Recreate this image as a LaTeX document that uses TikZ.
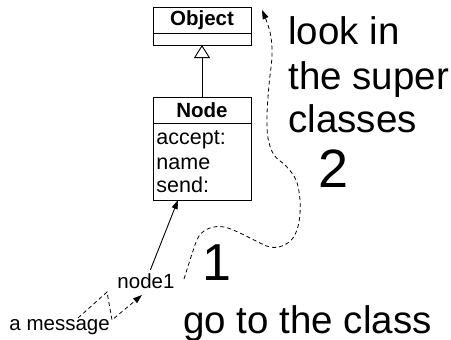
\documentclass[tikz,border=0pt]{standalone}
\usepackage{fontspec}
\setmainfont{Liberation Sans}
\usetikzlibrary{arrows.meta,calc}
\begin{document}
\begin{tikzpicture}[x=1pt,y=-1pt,line width=0.9pt,
  box/.style={draw,minimum width=98pt,inner sep=0pt,outer sep=0pt},
  small/.style={font=\fontsize{20.5}{24}\selectfont},
  big/.style={font=\fontsize{38.5}{44}\selectfont,inner sep=0pt,anchor=base west},
  lbl/.style={font=\fontsize{21.5}{24}\selectfont,inner sep=0pt,anchor=base west},
  dsh/.style={dash pattern=on 4pt off 3pt,line width=0.8pt},
  tip/.style={-{Triangle[length=9pt,width=6pt]}}]
\useasboundingbox (0,0) rectangle (451,340);
% Object class
\node[box,minimum height=26pt,small] (objhead) at (202,20) {\bfseries Object};
\node[box,minimum height=12pt,anchor=north] (objbody) at (objhead.south) {};
% Node class
\node[box,minimum height=26pt,small] (nodehead) at (202,110) {\bfseries Node};
\node[box,minimum height=77pt,anchor=north] (nodebody) at (nodehead.south) {};
\node[lbl] (r1) at (156,144) {accept:};
\node[lbl] (r2) at (156,169) {name};
\node[lbl] (r3) at (156,193) {send:};
% inheritance
\draw[-{Triangle[open,length=13pt,width=16pt,line width=0.9pt]}] (nodehead.north) -- (objbody.south);
% node1 and message
\node[small,inner sep=3pt] (node1) at (146,281) {node1};
\node[lbl,font=\fontsize{20.5}{24}\selectfont] (msg) at (9,330) {a message};
\draw[tip] (node1) -- ($(nodebody.south)+(-24,0)$);
\coordinate (m0) at (78,318);
\coordinate (m1) at (107,292);
\coordinate (m2) at (112,320);
\coordinate (m3) at (142,295);
\draw[dsh,tip] (m0) -- (m1) -- (m2) -- (m3);
% lookup curve
\draw[dsh,tip] plot[smooth,tension=0.6] coordinates {(184,279) (192,254) (199,236) (210,228) (224,227) (240,233) (256,241) (270,247) (282,246) (293,238) (299,222) (300,200) (296,180) (286,166) (274,155) (268,138) (267,115) (269,85) (272,55) (270,32) (262,10)};
% texts
\node[big] (t1) at (288,45) {look in};
\node[big] (t2) at (288,89) {the super};
\node[big] (t3) at (288,132) {classes};
\node[font=\fontsize{54}{60}\selectfont,inner sep=0pt,anchor=base west] (two) at (318,187) {2};
\node[font=\fontsize{52}{60}\selectfont,inner sep=0pt,anchor=base west] (one) at (202,280) {1};
\node[big] (t4) at (183,333) {go to the class};
\end{tikzpicture}
\end{document}
